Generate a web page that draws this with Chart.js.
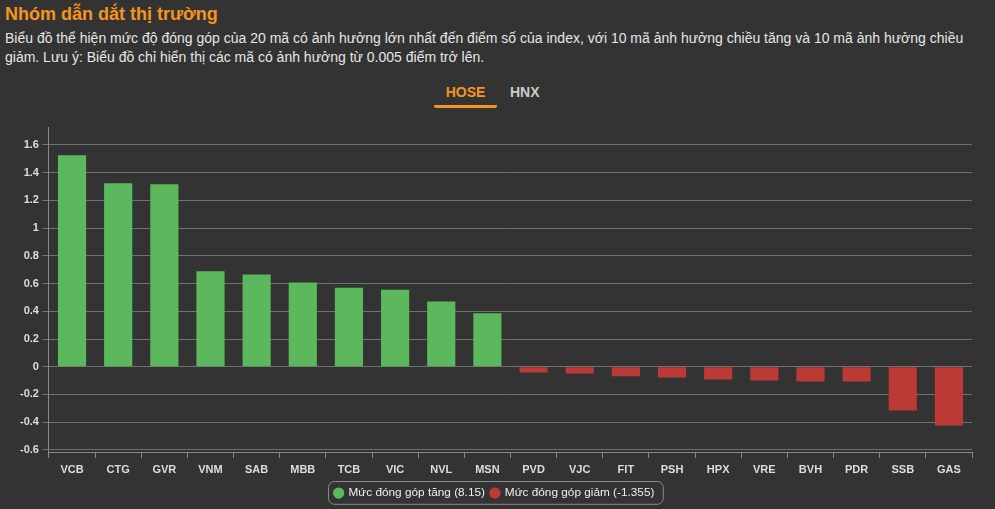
<!DOCTYPE html>
<html>
<head>
<meta charset="utf-8">
<script src="https://cdn.jsdelivr.net/npm/chart.js@4"></script>
<style>
  html, body { margin:0; padding:0; background:#333333; width:995px; height:509px; overflow:hidden; }
  body { font-family:"Liberation Sans", Arial, sans-serif; position:relative; }
  .title { position:absolute; left:5px; top:4px; color:#f7941d; font-size:18px; font-weight:bold; }
  .desc { position:absolute; left:5px; top:29px; color:#e6e6e6; font-size:14px; line-height:19px; white-space:nowrap; }
  .tab { position:absolute; top:84px; font-size:14px; font-weight:bold; }
  .tab.on { left:434px; width:63px; text-align:center; color:#f7941d; padding-bottom:5px; border-bottom:3px solid #f7941d; border-radius:0 0 2px 2px; }
  .tab.off { left:510px; color:#cccccc; }
  .wrap { position:absolute; left:0; top:118px; width:995px; height:391px; }
</style>
</head>
<body>
<div class="title">Nhóm dẫn dắt thị trường</div>
<div class="desc">Biểu đồ thể hiện mức độ đóng góp của 20 mã có ảnh hưởng lớn nhất đến điểm số của index, với 10 mã ảnh hưởng chiều tăng và 10 mã ảnh hưởng chiều<br>giảm. Lưu ý: Biểu đồ chỉ hiển thị các mã có ảnh hưởng từ 0.005 điểm trở lên.</div>
<div class="tab on">HOSE</div>
<div class="tab off">HNX</div>
<div class="wrap"><canvas id="leaders"></canvas></div>
<script>
const tickers = ['VCB','CTG','GVR','VNM','SAB','MBB','TCB','VIC','NVL','MSN',
                 'PVD','VJC','FIT','PSH','HPX','VRE','BVH','PDR','SSB','GAS'];
const upValues = [1.526, 1.323, 1.316, 0.688, 0.666, 0.608, 0.570, 0.556, 0.470, 0.385,
                  null, null, null, null, null, null, null, null, null, null];
const downValues = [null, null, null, null, null, null, null, null, null, null,
                    -0.041, -0.048, -0.068, -0.077, -0.092, -0.099, -0.106, -0.106, -0.315, -0.424];
const yTicks = [-0.6, -0.4, -0.2, 0, 0.2, 0.4, 0.6, 0.8, 1, 1.2, 1.4, 1.6];
const upLabel = 'Mức đóng góp tăng (8.15)';
const downLabel = 'Mức đóng góp giảm (-1.355)';

// rounded frame around the legend items
const legendFrame = {
  id: 'legendFrame',
  afterDraw(chart) {
    const boxes = chart.legend && chart.legend.legendHitBoxes;
    if (!boxes || !boxes.length) return;
    let l = Infinity, r = -Infinity, t = Infinity, b = -Infinity;
    boxes.forEach(h => {
      l = Math.min(l, h.left); r = Math.max(r, h.left + h.width);
      t = Math.min(t, h.top); b = Math.max(b, h.top + h.height);
    });
    const ctx = chart.ctx;
    ctx.save();
    ctx.strokeStyle = '#8a8a8a';
    ctx.lineWidth = 1;
    ctx.beginPath();
    ctx.roundRect(Math.round(l) - 6.5, Math.round(t) - 5.5, r - l + 15, b - t + 11, 6);
    ctx.stroke();
    ctx.restore();
  }
};

const tickFont = { family: '"Liberation Sans", Arial, sans-serif', size: 11, weight: 'bold' };

new Chart(document.getElementById('leaders').getContext('2d'), {
  type: 'bar',
  data: {
    labels: tickers,
    datasets: [
      { label: upLabel, data: upValues, backgroundColor: '#5cb85c', borderWidth: 0,
        barPercentage: 0.61, categoryPercentage: 1 },
      { label: downLabel, data: downValues, backgroundColor: '#bb3a35', borderWidth: 0,
        barPercentage: 0.61, categoryPercentage: 1 }
    ]
  },
  options: {
    responsive: true,
    maintainAspectRatio: false,
    animation: false,
    layout: { padding: { left: 17, right: 23, top: 7, bottom: 0 } },
    scales: {
      x: {
        stacked: true,
        grid: { drawOnChartArea: false, drawTicks: true, tickLength: 6, color: '#8a8a8a', offset: true },
        border: { display: true, color: '#8a8a8a' },
        ticks: { color: '#dddddd', font: tickFont, padding: 5, maxRotation: 0, autoSkip: false }
      },
      y: {
        stacked: true,
        min: -0.615,
        max: 1.725,
        afterBuildTicks: scale => { scale.ticks = yTicks.map(v => ({ value: v })); },
        grid: { color: '#707070', tickLength: 7 },
        border: { display: true, color: '#8a8a8a' },
        ticks: {
          color: '#dddddd', font: tickFont, padding: 3,
          callback: v => String(Number(Number(v).toFixed(1)))
        }
      }
    },
    plugins: {
      legend: {
        position: 'bottom',
        labels: {
          usePointStyle: true, pointStyle: 'circle', boxWidth: 8, boxHeight: 8,
          color: '#eeeeee', padding: 6,
          font: { family: '"Liberation Sans", Arial, sans-serif', size: 11.8 }
        }
      },
      tooltip: { enabled: false }
    }
  },
  plugins: [legendFrame]
});
</script>
</body>
</html>
